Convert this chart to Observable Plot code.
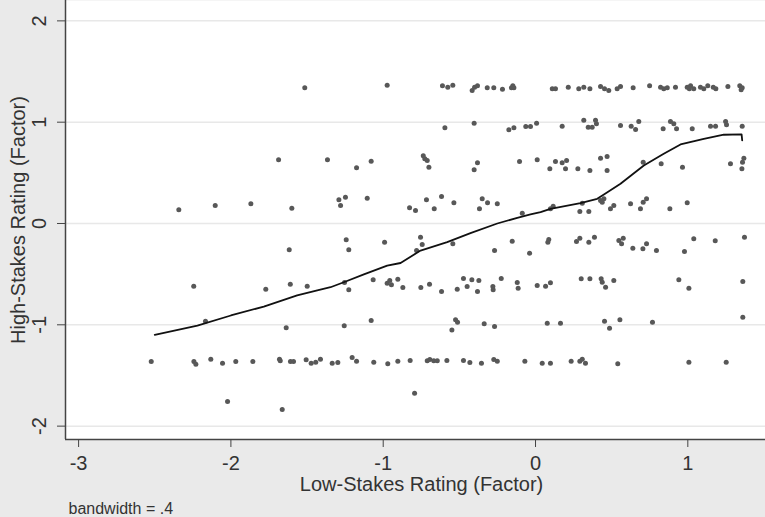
<!DOCTYPE html>
<html>
<head>
<meta charset="utf-8">
<script src="https://cdn.jsdelivr.net/npm/d3@7"></script>
<script src="https://cdn.jsdelivr.net/npm/@observablehq/plot@0.6"></script>
<style>
  html, body { margin: 0; padding: 0; background: #eaeaea; }
  #chart svg { display: block; }
</style>
</head>
<body>
<div id="chart"></div>
<script>
// Low-stakes rating (x) of each observation
const lowStakes = [
  -1.515,-1.687,-1.366,-2.342,-2.103,-1.869,-1.600,-1.617,-2.244,-1.771,-1.61,-1.499,-2.167,-1.637,
  -2.523,-2.243,-2.23,-2.132,-2.055,-1.968,-1.856,-1.681,-1.676,-1.609,-1.589,-1.506,-1.473,-1.443,-1.412,
  -2.022,-1.663,
  -0.974,-0.611,-0.576,-0.543,-0.416,-0.40,-0.381,-0.317,-0.274,-0.217,-0.158,-0.142,-0.149,
  -0.595,-0.403,-0.175,-0.142,-0.064,-0.033,
  -1.175,-1.079,-0.737,-0.727,-0.711,-0.70,-0.403,-0.381,-0.105,
  -1.291,-1.28,-1.248,-1.105,-0.827,-0.788,-0.716,-0.665,-0.617,-0.536,-0.368,-0.35,-0.315,-0.251,-0.087,
  -1.243,-1.226,-0.991,-0.755,-0.744,-0.781,-0.543,-0.269,-0.153,-0.039,
  -1.254,-1.226,-1.066,-0.974,-0.957,-0.946,-0.904,-0.871,-0.753,-0.696,-0.617,-0.514,-0.473,-0.449,-0.418,
  -0.381,-0.372,-0.28,-0.278,-0.225,-0.12,-0.114,
  -1.256,-1.079,-0.549,-0.525,-0.512,-0.337,-0.269,
  -1.335,-1.298,-1.204,-1.175,-1.062,-0.97,-0.904,-0.823,-0.711,-0.694,-0.668,-0.645,-0.582,-0.473,-0.431,
  -0.355,-0.274,-0.251,-0.07,-0.794,
  0.110,0.131,0.215,0.284,0.317,0.357,0.427,0.453,0.481,0.536,0.558,0.641,0.749,0.821,0.842,0.865,0.919,
  0.996,1.018,1.039,1.083,1.105,1.131,1.167,1.184,1.263,1.341,1.357,1.35,1.01,
  0.007,0.175,0.317,0.346,0.372,0.394,0.40,0.558,0.628,0.657,0.678,0.838,0.886,0.908,0.926,1.029,1.149,
  1.182,1.248,1.254,1.357,
  0.011,0.094,0.131,0.175,0.204,0.197,0.278,0.357,0.427,0.47,0.47,0.707,0.825,0.965,1.28,1.355,1.359,1.368,
  0.098,0.116,0.291,0.307,0.35,0.427,0.438,0.449,0.492,0.514,0.624,0.689,0.707,0.729,0.882,0.996,
  0.087,0.081,0.269,0.291,0.35,0.387,0.547,0.576,0.565,0.639,0.705,0.729,0.794,0.978,1.039,1.18,1.372,
  0.011,0.066,0.098,0.30,0.357,0.431,0.438,0.46,0.514,0.941,1.007,1.361,
  0.077,0.164,0.453,0.486,0.554,0.768,1.361,
  0.044,0.098,0.234,0.291,0.307,0.328,0.54,1.007,1.252
];
// High-stakes rating (y) of each observation
const highStakes = [
  1.34,0.63,0.63,0.135,0.178,0.194,0.151,-0.26,-0.62,-0.65,-0.60,-0.62,-0.965,-1.03,
  -1.362,-1.362,-1.389,-1.34,-1.379,-1.362,-1.362,-1.34,-1.355,-1.362,-1.362,-1.346,-1.379,-1.369,-1.34,
  -1.757,-1.836,
  1.365,1.36,1.345,1.365,1.313,1.345,1.36,1.34,1.34,1.326,1.34,1.34,1.36,
  0.945,0.99,0.925,0.945,0.958,0.958,
  0.55,0.615,0.668,0.638,0.622,0.556,0.53,0.60,0.612,
  0.234,0.178,0.26,0.25,0.155,0.128,0.234,0.145,0.267,0.204,0.145,0.244,0.204,0.194,0.10,
  -0.161,-0.26,-0.184,-0.135,-0.207,-0.267,-0.2,-0.267,-0.175,-0.293,
  -0.582,-0.655,-0.556,-0.59,-0.563,-0.605,-0.55,-0.632,-0.632,-0.6,-0.671,-0.649,-0.543,-0.622,-0.556,
  -0.671,-0.563,-0.622,-0.655,-0.543,-0.582,-0.639,
  -1.01,-0.958,-1.05,-0.951,-0.974,-0.99,-1.017,
  -1.379,-1.372,-1.323,-1.359,-1.369,-1.385,-1.359,-1.352,-1.355,-1.343,-1.355,-1.355,-1.352,-1.352,-1.372,
  -1.379,-1.343,-1.359,-1.359,-1.675,
  1.33,1.33,1.345,1.33,1.345,1.33,1.352,1.33,1.313,1.33,1.352,1.34,1.36,1.345,1.33,1.34,1.345,
  1.345,1.36,1.33,1.345,1.33,1.36,1.345,1.33,1.352,1.36,1.34,1.32,1.33,
  0.99,0.96,1.02,0.95,0.95,1.02,0.985,0.967,0.96,0.928,1.007,0.935,1.007,0.984,0.935,0.935,0.96,
  0.96,1.007,0.974,0.96,
  0.63,0.54,0.612,0.60,0.622,0.54,0.54,0.523,0.645,0.661,0.523,0.605,0.59,0.556,0.59,0.54,0.605,0.645,
  0.145,0.171,0.118,0.20,0.118,0.227,0.21,0.244,0.145,0.178,0.194,0.145,0.21,0.244,0.145,0.204,
  -0.158,-0.184,-0.178,-0.145,-0.184,-0.135,-0.168,-0.145,-0.2,-0.244,-0.25,-0.2,-0.267,-0.276,-0.151,-0.171,-0.135,
  -0.612,-0.619,-0.585,-0.546,-0.546,-0.546,-0.579,-0.629,-0.563,-0.556,-0.639,-0.573,
  -0.984,-0.984,-0.964,-1.034,-0.951,-0.974,-0.925,
  -1.379,-1.379,-1.36,-1.36,-1.34,-1.379,-1.385,-1.369,-1.369
];
// Lowess smooth (bandwidth .4)
const lowessX = [-2.50,-2.22,-2.0,-1.784,-1.565,-1.433,-1.346,-1.259,-1.127,-0.974,-0.886,-0.755,-0.58,-0.427,
  -0.251,-0.12,-0.033,0.033,0.098,0.295,0.405,0.449,0.558,0.711,0.842,0.952,1.105,1.236,1.353,1.357];
const lowessY = [-1.099,-1.007,-0.908,-0.82,-0.71,-0.66,-0.629,-0.58,-0.503,-0.415,-0.39,-0.267,-0.184,-0.095,
  0,0.056,0.089,0.112,0.145,0.2,0.244,0.286,0.392,0.573,0.688,0.78,0.836,0.876,0.879,0.82];

const xTicks = [-3, -2, -1, 0, 1];
const yTicks = [-2, -1, 0, 1, 2];
const xTitle = "Low-Stakes Rating (Factor)";
const yTitle = "High-Stakes Rating (Factor)";
const note = "bandwidth = .4";

const points = lowStakes.map((x, i) => ({x, y: highStakes[i]}));
const lowess = lowessX.map((x, i) => ({x, y: lowessY[i]}));
const xDom = [-3.086, 1.51];
const yDom = [-2.132, 2.201];
const font = "'Liberation Sans', Arial, Helvetica, sans-serif";

const chart = Plot.plot({
  width: 765,
  height: 517,
  marginLeft: 65,
  marginRight: 0,
  marginTop: 0,
  marginBottom: 78,
  style: {background: "#eaeaea", fontFamily: font, color: "#333"},
  x: {domain: xDom},
  y: {domain: yDom},
  marks: [
    Plot.frame({fill: "white", stroke: null}),
    Plot.gridY(yTicks, {stroke: "#e8e8e8", strokeOpacity: 1, strokeWidth: 1.5}),
    Plot.dot(points, {x: "x", y: "y", r: 2.5, fill: "#585858", stroke: null}),
    Plot.line(lowess, {x: "x", y: "y", stroke: "#111", strokeWidth: 1.8}),
    Plot.ruleX([xDom[0]], {stroke: "#444", strokeWidth: 1.5}),
    Plot.ruleY([yDom[0]], {stroke: "#444", strokeWidth: 1.5}),
    Plot.axisX(xTicks, {tickSize: 8, tickPadding: 8, fontSize: 20, tickFormat: d => String(d), label: null, stroke: "#444", fill: "#333"}),
    Plot.axisY(yTicks, {tickSize: 8, tickFormat: () => "", label: null, stroke: "#444"}),
    Plot.text(yTicks, {y: d => d, text: d => String(d), frameAnchor: "left", textAnchor: "middle", lineAnchor: "middle", dx: -26, rotate: -90, fontSize: 20, fill: "#333"}),
    Plot.text([yTitle], {text: d => d, frameAnchor: "left", textAnchor: "middle", lineAnchor: "middle", dx: -47, rotate: -90, fontSize: 20, fill: "#333"}),
    Plot.text([xTitle], {text: d => d, frameAnchor: "bottom", textAnchor: "middle", lineAnchor: "middle", dx: 6, dy: 45, fontSize: 20, fill: "#333"}),
    Plot.text([note], {text: d => d, frameAnchor: "bottom-left", textAnchor: "start", lineAnchor: "middle", dx: 3, dy: 69, fontSize: 16, fill: "#333"})
  ]
});
document.getElementById("chart").appendChild(chart);
</script>
</body>
</html>
